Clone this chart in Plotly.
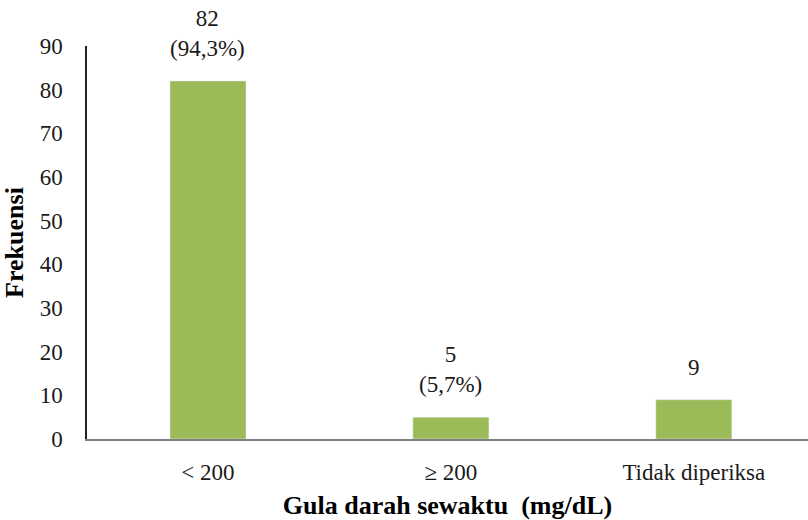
import plotly.graph_objects as go

categories = ["< 200", "≥ 200", "Tidak diperiksa"]
values = [82, 5, 9]
labels = ["82<br>(94,3%)", "5<br>(5,7%)", "9"]

font_family = "'Liberation Serif', 'Times New Roman', serif"

fig = go.Figure(go.Bar(x=categories, y=values, marker_color="#9BBB59", width=0.313))

for c, v, t in zip(categories, values, labels):
    fig.add_annotation(x=c, y=v, text=t, showarrow=False, yanchor="bottom", yshift=18,
                       font=dict(family=font_family, size=23, color="#1a1a1a"))

fig.update_layout(
    width=808, height=520,
    margin=dict(l=87, r=0, t=46, b=81),
    plot_bgcolor="white", paper_bgcolor="white",
    showlegend=False,
    font=dict(family=font_family, size=23, color="#1a1a1a"),
    xaxis=dict(
        range=[-0.498, 2.47],
        showline=True, linecolor="#808080", linewidth=1.5, ticks="", automargin=False,
        ticklabelstandoff=12,
        title=dict(text="<b>Gula darah sewaktu&nbsp;&nbsp;(mg/dL)</b>", font=dict(family=font_family, size=26, color="#000"), standoff=18),
        tickfont=dict(family=font_family, size=23),
    ),
    yaxis=dict(
        range=[0, 90], dtick=10, showgrid=False, zeroline=False, automargin=False,
        showline=True, linecolor="#222", linewidth=1.5, ticks="",
        ticklabelstandoff=18,
        title=dict(text="<b>Frekuensi</b>", font=dict(family=font_family, size=26, color="#000"), standoff=30),
        tickfont=dict(family=font_family, size=23),
    ),
)

fig.write_html("out.html", config={"displayModeBar": False},
               post_script="document.body.style.margin='0';document.body.style.overflow='hidden';")
